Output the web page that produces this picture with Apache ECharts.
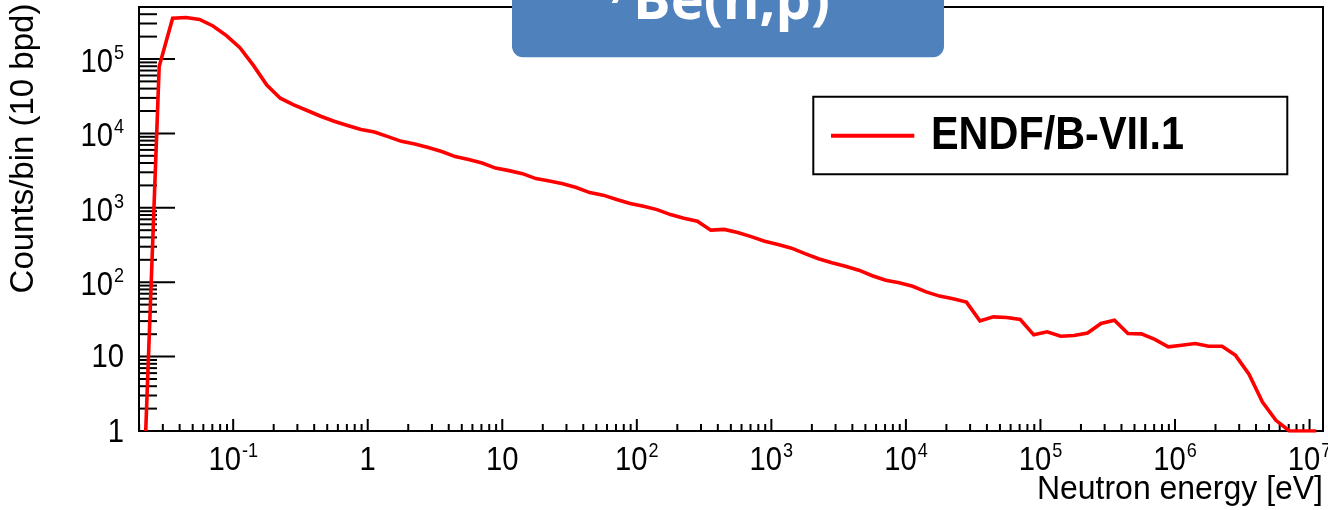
<!DOCTYPE html>
<html><head><meta charset="utf-8">
<script src="https://cdn.jsdelivr.net/npm/echarts@6/dist/echarts.min.js"></script>
<style>html,body{margin:0;padding:0;background:#fff;overflow:hidden}#c{width:1328px;height:510px}</style>
</head><body><div id="c"></div>
<script>
// ---- data (10 bins per decade, bin centres) ----
const energies = [
  2.239e-2, 2.818e-2, 3.548e-2, 4.467e-2, 5.623e-2, 7.079e-2, 8.913e-2,
  1.122e-1, 1.413e-1, 1.778e-1, 2.239e-1, 2.818e-1, 3.548e-1, 4.467e-1, 5.623e-1, 7.079e-1, 8.913e-1,
  1.122e0, 1.413e0, 1.778e0, 2.239e0, 2.818e0, 3.548e0, 4.467e0, 5.623e0, 7.079e0, 8.913e0,
  1.122e1, 1.413e1, 1.778e1, 2.239e1, 2.818e1, 3.548e1, 4.467e1, 5.623e1, 7.079e1, 8.913e1,
  1.122e2, 1.413e2, 1.778e2, 2.239e2, 2.818e2, 3.548e2, 4.467e2, 5.623e2, 7.079e2, 8.913e2,
  1.122e3, 1.413e3, 1.778e3, 2.239e3, 2.818e3, 3.548e3, 4.467e3, 5.623e3, 7.079e3, 8.913e3,
  1.122e4, 1.413e4, 1.778e4, 2.239e4, 2.818e4, 3.548e4, 4.467e4, 5.623e4, 7.079e4, 8.913e4,
  1.122e5, 1.413e5, 1.778e5, 2.239e5, 2.818e5, 3.548e5, 4.467e5, 5.623e5, 7.079e5, 8.913e5,
  1.122e6, 1.413e6, 1.778e6, 2.239e6, 2.818e6, 3.548e6, 4.467e6, 5.623e6, 7.079e6, 8.913e6,
  1.122e7
];
const counts = [
  1, 7.9e4, 3.53e5, 3.62e5, 3.4e5, 2.78e5, 2.06e5,
  1.42e5, 8.2e4, 4.47e4, 2.97e4, 2.42e4, 2.03e4, 1.7e4, 1.46e4, 1.28e4, 1.13e4,
  1.042e4, 9060, 7820, 7190, 6450, 5700, 4880, 4450, 3990, 3420,
  3160, 2880, 2470, 2290, 2110, 1870, 1600, 1480, 1290, 1140,
  1050, 945, 810, 726, 662, 501, 512, 464, 410, 356,
  320, 287, 242, 207, 183, 164, 145, 122, 106, 98,
  88, 74, 65, 60, 54, 30.2, 34.2, 33.5, 31.5, 19.6,
  21.5, 18.8, 19.2, 20.8, 27.9, 30.8, 20.4, 20.2, 17.0, 13.5,
  14.2, 15.0, 13.8, 13.8, 10.4, 5.8, 2.45, 1.39, 1, 1,
  1
];
const seriesName = 'ENDF/B-VII.1';
const xTickValues = [0.1, 1, 10, 100, 1e3, 1e4, 1e5, 1e6, 1e7];
const xTickLabels = ['10^-1', '1', '10', '10^2', '10^3', '10^4', '10^5', '10^6', '10^7'];
const yTickValues = [1, 10, 100, 1e3, 1e4, 1e5];
const yTickLabels = ['1', '10', '10^2', '10^3', '10^4', '10^5'];
const xTitle = 'Neutron energy [eV]';
const yTitle = 'Counts/bin (10 bpd)';
const titleMain = 'Be(n,p)';
const titleSup = '7';
const X_MIN = 0.019953, X_MAX = 1.2589e7, Y_MIN = 1, Y_MAX = 5.0e5;

// ---- style ----
const FONT = '"Liberation Sans", Arial, Helvetica, sans-serif';
const BASE_FS = 34, SUP_FS = 21, SX = 0.86, GAP = 1;
const mctx = document.createElement('canvas').getContext('2d');
function measure(t, fs, w) { mctx.font = (w || 'normal') + ' ' + fs + 'px ' + FONT; return mctx.measureText(t).width; }

// minor/major tick lists (axis decoration)
function decadeTicks(lo, hi) {
  const major = [], minor = [];
  for (let d = -3; d <= 8; d++) {
    const p = Math.pow(10, d);
    if (p >= lo && p <= hi) major.push(p);
    for (let m = 2; m <= 9; m++) { const v = m * p; if (v >= lo * 1.0001 && v <= hi) minor.push(v); }
  }
  return { major, minor };
}
const xt = decadeTicks(X_MIN, X_MAX), yt = decadeTicks(Y_MIN, Y_MAX);
const xTickData = xt.major.map(v => [v, Y_MIN, 12]).concat(xt.minor.map(v => [v, Y_MIN, 7]));
const yTickData = yt.major.map(v => [X_MIN, v, 36]).concat(yt.minor.map(v => [X_MIN, v, 18]));

function labelChildren(label, ax, ay, mode) {
  const parts = label.split('^');
  const base = parts[0], exp = parts[1];
  const wb = measure(base, BASE_FS) * SX;
  const ws = exp ? measure(exp, SUP_FS) * SX + GAP : 0;
  const left = mode === 'x' ? ax - (wb + ws) / 2 : ax - (wb + ws);
  const baseY = mode === 'x' ? ay : ay + (exp ? 3.5 : 1.5);
  const ch = [{
    type: 'text', x: left, y: baseY, scaleX: SX,
    style: { text: base, fontSize: BASE_FS, fontFamily: FONT, fill: '#000', align: 'left', verticalAlign: 'middle' }
  }];
  if (exp) ch.push({
    type: 'text', x: left + wb + GAP, y: baseY - 9.5, scaleX: SX,
    style: { text: exp, fontSize: SUP_FS, fontFamily: FONT, fill: '#000', align: 'left', verticalAlign: 'middle' }
  });
  return ch;
}

const chart = echarts.init(document.getElementById('c'), null, { renderer: 'canvas' });
const option = {
  animation: false,
  backgroundColor: '#fff',
  grid: { left: 139, top: 7, width: 1184, height: 424, show: true, borderColor: '#000', borderWidth: 2, backgroundColor: 'transparent', containLabel: false, outerBoundsMode: 'none' },
  xAxis: { type: 'log', logBase: 10, min: X_MIN, max: X_MAX, axisLine: { show: false }, axisTick: { show: false }, axisLabel: { show: false }, splitLine: { show: false } },
  yAxis: { type: 'log', logBase: 10, min: Y_MIN, max: Y_MAX, axisLine: { show: false }, axisTick: { show: false }, axisLabel: { show: false }, splitLine: { show: false } },
  series: [
    {
      name: seriesName, type: 'line', data: energies.map((e, i) => [e, counts[i]]),
      showSymbol: false, symbol: 'none', smooth: false, z: 5,
      lineStyle: { color: '#ff0000', width: 3.6, join: 'miter' }, silent: true
    },
    {
      type: 'custom', silent: true, z: 4, data: xTickData,
      renderItem: (params, api) => {
        const p = api.coord([api.value(0), Y_MIN]);
        return { type: 'line', shape: { x1: p[0], y1: p[1], x2: p[0], y2: p[1] - api.value(2) }, style: { stroke: '#000', lineWidth: 2 } };
      }
    },
    {
      type: 'custom', silent: true, z: 4, data: yTickData,
      renderItem: (params, api) => {
        const p = api.coord([X_MIN, api.value(1)]);
        return { type: 'line', shape: { x1: p[0], y1: p[1], x2: p[0] + api.value(2), y2: p[1] }, style: { stroke: '#000', lineWidth: 2 } };
      }
    },
    {
      type: 'custom', silent: true, z: 6, data: xTickValues.map(v => [v, Y_MIN]),
      renderItem: (params, api) => {
        const p = api.coord([api.value(0), Y_MIN]);
        return { type: 'group', children: labelChildren(xTickLabels[params.dataIndex], p[0], p[1] + 29.5, 'x') };
      }
    },
    {
      type: 'custom', silent: true, z: 6, data: yTickValues.map(v => [X_MIN, v]),
      renderItem: (params, api) => {
        const p = api.coord([X_MIN, api.value(1)]);
        return { type: 'group', children: labelChildren(yTickLabels[params.dataIndex], p[0] - 15, p[1], 'y') };
      }
    }
  ],
  graphic: [
    { type: 'rect', z: 100, shape: { x: 512, y: -20, width: 432, height: 77.3, r: 11 }, style: { fill: '#4F81BD' } },
    { type: 'text', z: 101, x: 633, y: 3, style: { text: titleMain, font: 'bold 56px "Open Sans", sans-serif', fill: '#fff', align: 'left', verticalAlign: 'middle' } },
    { type: 'text', z: 101, x: 608, y: -7, style: { text: titleSup, font: 'bold 34px "Open Sans", sans-serif', fill: '#fff', align: 'left', verticalAlign: 'middle' } },
    { type: 'rect', z: 100, shape: { x: 813.3, y: 96.7, width: 474, height: 77.6 }, style: { fill: '#fff', stroke: '#000', lineWidth: 2 } },
    { type: 'line', z: 101, shape: { x1: 831, y1: 135.7, x2: 914.3, y2: 135.7 }, style: { stroke: '#ff0000', lineWidth: 4 } },
    { type: 'text', z: 101, x: 931, y: 136, scaleX: 0.9, style: { text: seriesName, font: 'bold 46px ' + FONT, fill: '#000', align: 'left', verticalAlign: 'middle' } },
    { type: 'text', z: 101, x: 1323, y: 489.5, scaleX: 0.94, style: { text: xTitle, font: 'normal 34px ' + FONT, fill: '#000', align: 'right', verticalAlign: 'middle' } },
    { type: 'text', z: 101, x: 24, y: 148.5, rotation: Math.PI / 2, style: { text: yTitle, font: 'normal 33px ' + FONT, fill: '#000', align: 'center', verticalAlign: 'middle' } }
  ]
};
chart.setOption(option);
</script></body></html>
